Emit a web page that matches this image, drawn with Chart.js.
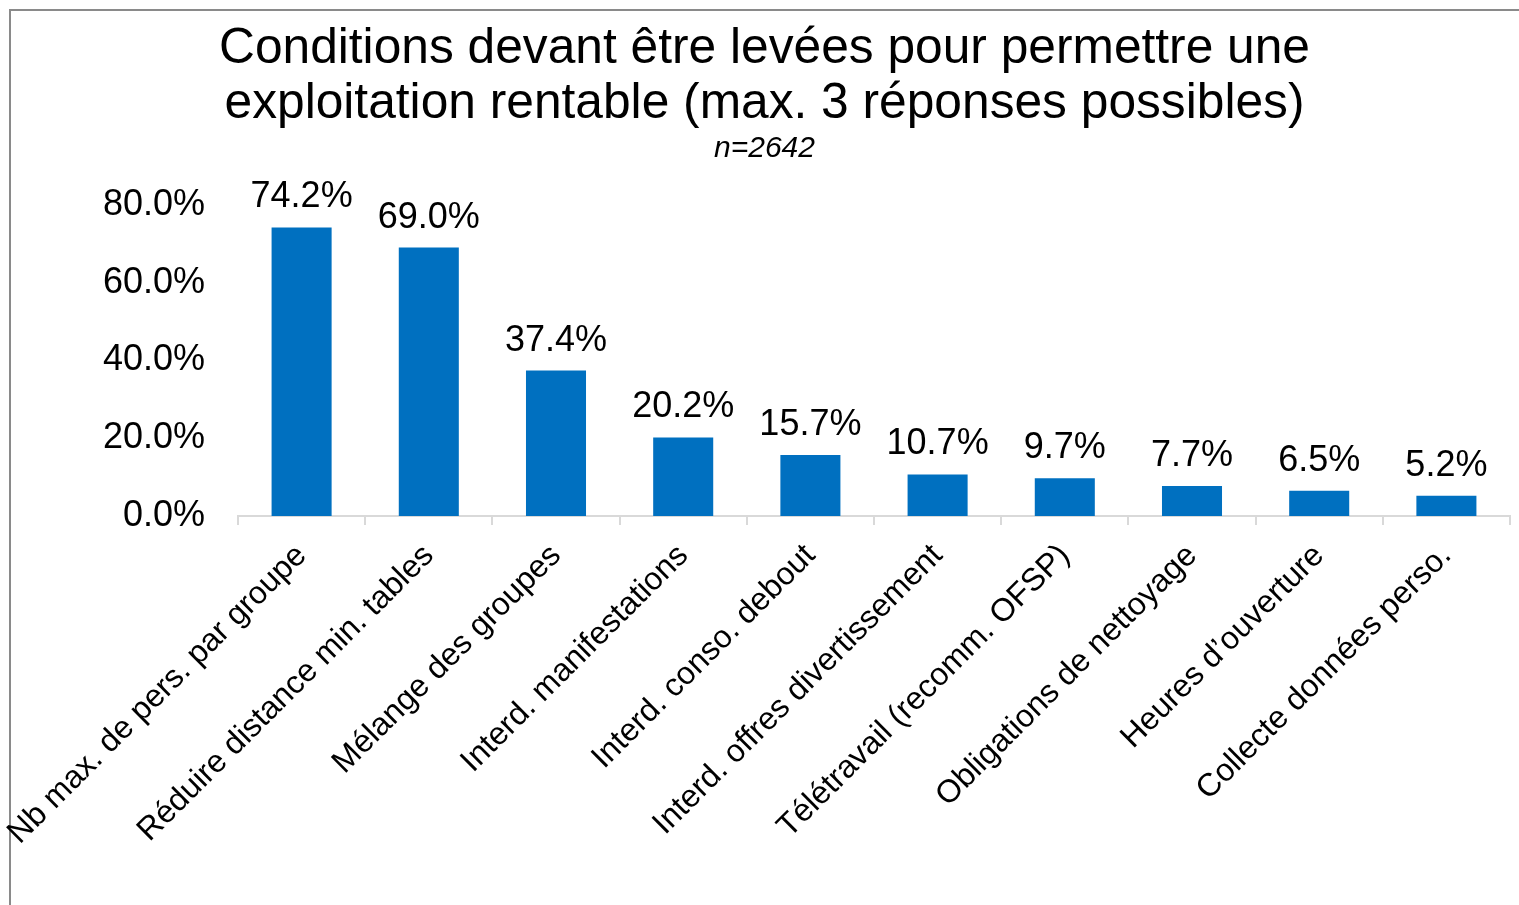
<!DOCTYPE html>
<html>
<head>
<meta charset="utf-8">
<script src="https://cdn.jsdelivr.net/npm/chart.js@4/dist/chart.umd.min.js"></script>
<style>
  html, body { margin: 0; padding: 0; background: #fff; }
  #wrap { position: relative; width: 1519px; height: 905px; }
</style>
</head>
<body>
<div id="wrap"><canvas id="c" width="1519" height="905"></canvas></div>
<script>
const categories = [
  "Nb max. de pers. par groupe",
  "Réduire distance min. tables",
  "Mélange des groupes",
  "Interd. manifestations",
  "Interd. conso. debout",
  "Interd. offres divertissement",
  "Télétravail (recomm. OFSP)",
  "Obligations de nettoyage",
  "Heures d’ouverture",
  "Collecte données perso."
];
const values = [74.2, 69.0, 37.4, 20.2, 15.7, 10.7, 9.7, 7.7, 6.5, 5.2];
const yTicks = [0, 20, 40, 60, 80];
const titleLines = ["Conditions devant être levées pour permettre une", "exploitation rentable (max. 3 réponses possibles)"];
const subtitleText = "n=2642";

const FONT = "'Liberation Sans', Arial, sans-serif";

const frame = {
  id: 'frame',
  beforeDraw(chart) {
    const ctx = chart.ctx;
    ctx.save();
    ctx.fillStyle = '#fff';
    ctx.fillRect(0, 0, chart.width, chart.height);
    ctx.strokeStyle = '#8a8a8a';
    ctx.lineWidth = 2;
    ctx.beginPath();
    ctx.moveTo(10, chart.height);
    ctx.lineTo(10, 10);
    ctx.lineTo(chart.width, 10);
    ctx.stroke();
    ctx.restore();
  }
};

const valueLabels = {
  id: 'valueLabels',
  afterDatasetsDraw(chart) {
    const ctx = chart.ctx;
    const meta = chart.getDatasetMeta(0);
    ctx.save();
    ctx.font = "36px " + FONT;
    ctx.fillStyle = '#000';
    ctx.textAlign = 'center';
    ctx.textBaseline = 'alphabetic';
    meta.data.forEach((bar, i) => {
      const v = chart.data.datasets[0].data[i];
      ctx.fillText(v.toFixed(1) + '%', bar.x, bar.y - 20);
    });
    ctx.restore();
  }
};

new Chart(document.getElementById('c'), {
  type: 'bar',
  data: {
    labels: categories,
    datasets: [{
      data: values,
      backgroundColor: '#0070C0',
      borderWidth: 0,
      barPercentage: 0.472,
      categoryPercentage: 1.0
    }]
  },
  options: {
    responsive: false,
    animation: false,
    devicePixelRatio: 1,
    layout: { padding: { left: 10, right: 0, top: 10, bottom: 0 } },
    plugins: {
      legend: { display: false },
      tooltip: { enabled: false },
      title: {
        display: true,
        text: titleLines,
        color: '#000',
        font: { family: FONT, size: 49.7, weight: 'normal', lineHeight: 1.12 },
        padding: { top: 11, bottom: 0 }
      },
      subtitle: {
        display: true,
        text: subtitleText,
        color: '#000',
        font: { family: FONT, size: 30, style: 'italic', weight: 'normal', lineHeight: 1.1 },
        padding: { top: 0, bottom: 39.5 }
      }
    },
    scales: {
      x: {
        offset: true,
        grid: { display: true, drawOnChartArea: false, drawTicks: true, tickLength: 9, color: '#d9d9d9', lineWidth: 2, offset: true },
        border: { display: true, color: '#d9d9d9', width: 2 },
        ticks: {
          color: '#000',
          font: { family: FONT, size: 32 },
          minRotation: 45,
          maxRotation: 45,
          autoSkip: false,
          padding: 12
        },
        afterFit(scale) {
          scale.height = 389;
          scale.paddingLeft = 0;
          scale.paddingRight = 0;
        }
      },
      y: {
        min: 0,
        max: 80,
        grid: { display: false, drawTicks: false },
        border: { display: false },
        afterBuildTicks(scale) { scale.ticks = yTicks.map(v => ({ value: v })); },
        ticks: {
          color: '#000',
          font: { family: FONT, size: 36 },
          padding: 33,
          callback: v => Number(v).toFixed(1) + '%'
        },
        afterFit(scale) {
          scale.width = 228;
          scale.paddingTop = 0;
          scale.paddingBottom = 0;
        }
      },
      yRight: {
        position: 'right',
        display: true,
        grid: { display: false, drawTicks: false },
        border: { display: false },
        ticks: { display: false },
        afterFit(scale) {
          scale.width = 9;
          scale.paddingTop = 0;
          scale.paddingBottom = 0;
        }
      }
    }
  },
  plugins: [frame, valueLabels]
});
</script>
</body>
</html>
